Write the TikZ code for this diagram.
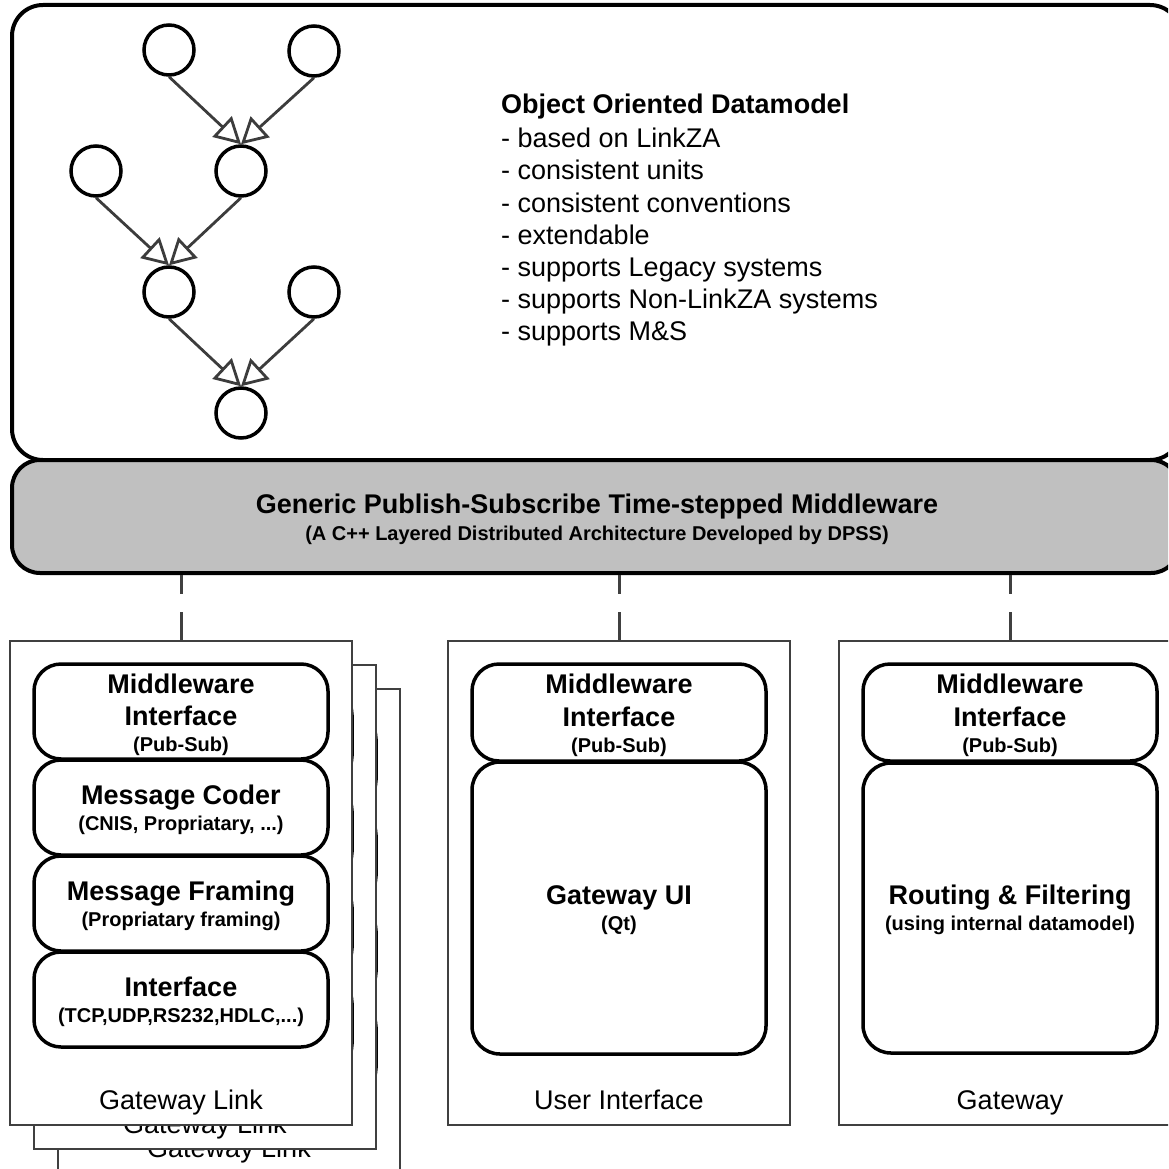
\documentclass[tikz,border=0pt]{standalone}
\usepackage{fontspec}
\setmainfont{Liberation Sans}
\usetikzlibrary{arrows.meta,calc}
\definecolor{bargray}{HTML}{C0C0C0}
\definecolor{edgegray}{HTML}{3C3C3C}
\definecolor{boxgray}{HTML}{404040}
\begin{document}
\begin{tikzpicture}[x=1pt,y=-1pt,
  big/.style={font=\bfseries\fontsize{27}{27}\selectfont, anchor=base, inner sep=0pt},
  small/.style={font=\bfseries\fontsize{20}{20}\selectfont, anchor=base, inner sep=0pt},
  plain/.style={font=\fontsize{27}{27}\selectfont, anchor=base, inner sep=0pt},
  plainw/.style={font=\fontsize{27}{27}\selectfont, anchor=base west, inner sep=0pt},
  bigw/.style={font=\bfseries\fontsize{27}{27}\selectfont, anchor=base west, inner sep=0pt},
  circ/.style={circle, draw=black, line width=3.5pt, minimum size=50pt, inner sep=0pt},
  edge/.style={draw=edgegray, line width=2.8pt, -{Triangle[open, length=26pt, width=28pt]}},
  container/.style={draw=black!75, line width=1.3pt, fill=white, minimum width=342pt, minimum height=484pt, inner sep=0pt},
  rbox/.style={draw=black, line width=3.5pt, rounded corners=27pt, minimum width=294pt, inner sep=0pt},
  link/.style={draw=boxgray, line width=3pt, dash pattern=on 19pt off 18pt on 80pt}
]
\useasboundingbox (0,0) rectangle (1168,1169);
\clip (0,0) rectangle (1168,1169);

% datamodel box
\node[draw=black, line width=4pt, rounded corners=31pt, minimum width=1169pt, minimum height=455pt, inner sep=0pt] (dm) at (596.5,232.5) {};

% graph
\node[circ] (A) at (169,50) {};
\node[circ] (B) at (314,51) {};
\node[circ] (C) at (96,171) {};
\node[circ] (D) at (241,171) {};
\node[circ] (E) at (169,292) {};
\node[circ] (F) at (314,292) {};
\node[circ] (G) at (241,413) {};
\draw[edge] (A.south) -- (D.north);
\draw[edge] (B.south) -- (D.north);
\draw[edge] (C.south) -- (E.north);
\draw[edge] (D.south) -- (E.north);
\draw[edge] (E.south) -- (G.north);
\draw[edge] (F.south) -- (G.north);

% datamodel text
\node[bigw] (dt0) at (501,114) {Object Oriented Datamodel};
\node[plainw] (dt1) at (501,148) {- based on LinkZA};
\node[plainw] (dt2) at (501,180) {- consistent units};
\node[plainw] (dt3) at (501,212) {- consistent conventions};
\node[plainw] (dt4) at (501,244) {- extendable};
\node[plainw] (dt5) at (501,276) {- supports Legacy systems};
\node[plainw] (dt6) at (501,308) {- supports Non-LinkZA systems};
\node[plainw] (dt7) at (501,340) {- supports M\&S};

% middleware bar
\node[draw=black, fill=bargray, line width=4pt, rounded corners=28pt, minimum width=1167pt, minimum height=113pt, inner sep=0pt] (mw) at (595.5,516.5) {};
\node[big] (mwt) at (597,513) {Generic Publish-Subscribe Time-stepped Middleware};
\node[small] (mws) at (597,540) {(A C++ Layered Distributed Architecture Developed by DPSS)};

% gateway link stack
\foreach \k/\d in {3/48,2/24,1/0}{
  \begin{scope}[shift={(\d,\d)}]
    \node[container] (gl\k) at (181,883) {};
    \node[rbox, minimum height=95pt] (glmw\k) at (181,711.5) {};
    \node[big] (glmwa\k) at ($(glmw\k.center)+(0,-18.5)$) {Middleware};
    \node[big] (glmwb\k) at ($(glmw\k.center)+(0,14)$) {Interface};
    \node[small] (glmwc\k) at ($(glmw\k.center)+(0,39.5)$) {(Pub-Sub)};
    \node[rbox, minimum height=95pt] (glmc\k) at (181,807.5) {};
    \node[big] (glmca\k) at ($(glmc\k.center)+(0,-3.5)$) {Message Coder};
    \node[small] (glmcb\k) at ($(glmc\k.center)+(0,23)$) {(CNIS, Propriatary, ...)};
    \node[rbox, minimum height=95pt] (glmf\k) at (181,903.5) {};
    \node[big] (glmfa\k) at ($(glmf\k.center)+(0,-3.5)$) {Message Framing};
    \node[small] (glmfb\k) at ($(glmf\k.center)+(0,23)$) {(Propriatary framing)};
    \node[rbox, minimum height=95pt] (glif\k) at (181,999.5) {};
    \node[big] (glifa\k) at ($(glif\k.center)+(0,-3.5)$) {Interface};
    \node[small] (glifb\k) at ($(glif\k.center)+(0,23)$) {(TCP,UDP,RS232,HDLC,...)};
    \node[plain] (gllab\k) at (181,1109) {Gateway Link};
  \end{scope}
}

% user interface
\node[container] (ui) at (619,883) {};
\node[rbox, minimum height=97pt] (uimw) at (619,712.5) {};
\node[big] (uimwa) at ($(uimw.center)+(0,-19)$) {Middleware};
\node[big] (uimwb) at ($(uimw.center)+(0,14)$) {Interface};
\node[small] (uimwc) at ($(uimw.center)+(0,39.5)$) {(Pub-Sub)};
\node[rbox, rounded corners=28pt, minimum height=292pt] (uibig) at (619,908) {};
\node[big] (uibiga) at ($(uibig.center)+(0,-4)$) {Gateway UI};
\node[small] (uibigb) at ($(uibig.center)+(0,22)$) {(Qt)};
\node[plain] (uilab) at (619,1109) {User Interface};

% gateway
\node[container] (gw) at (1010,883) {};
\node[rbox, minimum height=97pt] (gwmw) at (1010,712.5) {};
\node[big] (gwmwa) at ($(gwmw.center)+(0,-19)$) {Middleware};
\node[big] (gwmwb) at ($(gwmw.center)+(0,14)$) {Interface};
\node[small] (gwmwc) at ($(gwmw.center)+(0,39.5)$) {(Pub-Sub)};
\node[rbox, rounded corners=28pt, minimum height=290pt] (gwbig) at (1010,908) {};
\node[big] (gwbiga) at ($(gwbig.center)+(0,-4)$) {Routing \& Filtering};
\node[small] (gwbigb) at ($(gwbig.center)+(0,22)$) {(using internal datamodel)};
\node[plain] (gwlab) at (1010,1109) {Gateway};

% connectors
\draw[link] (mw.south -| gl1.north) -- (gl1.north);
\draw[link] (mw.south -| ui.north) -- (ui.north);
\draw[link] (mw.south -| gw.north) -- (gw.north);
\end{tikzpicture}
\end{document}
